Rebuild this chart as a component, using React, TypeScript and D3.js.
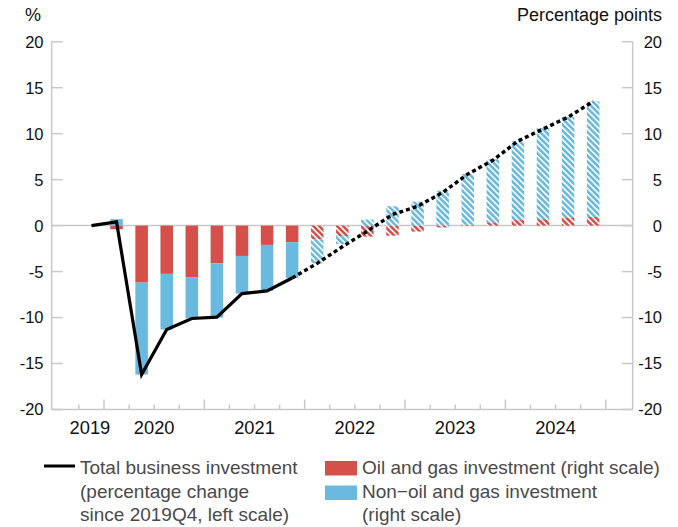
import React from "react";
import * as d3 from "d3";

// ---- data ----
const axisQuarters = [
  "2019Q3", "2019Q4",
  "2020Q1", "2020Q2", "2020Q3", "2020Q4",
  "2021Q1", "2021Q2", "2021Q3", "2021Q4",
  "2022Q1", "2022Q2", "2022Q3", "2022Q4",
  "2023Q1", "2023Q2", "2023Q3", "2023Q4",
  "2024Q1", "2024Q2", "2024Q3", "2024Q4",
  "2025Q1",
];
const barQuarters = [
  "2020Q1", "2020Q2", "2020Q3", "2020Q4",
  "2021Q1", "2021Q2", "2021Q3", "2021Q4",
  "2022Q1", "2022Q2", "2022Q3", "2022Q4",
  "2023Q1", "2023Q2", "2023Q3", "2023Q4",
  "2024Q1", "2024Q2", "2024Q3", "2024Q4",
];
const oilGas = [
  -0.4, -6.2, -5.25, -5.6,
  -4.1, -3.3, -2.1, -1.8,
  -1.5, -1.15, -1.2, -1.1,
  -0.65, -0.2, 0.1, 0.36,
  0.6, 0.7, 0.9, 0.95,
];
const nonOilGas = [
  0.7, -10.0, -6.05, -4.5,
  -5.9, -4.1, -5.0, -3.9,
  -2.6, -0.85, 0.65, 2.1,
  2.6, 3.8, 5.5, 6.85,
  8.6, 9.9, 10.9, 12.55,
];
const lineQuarters = ["2019Q4", ...barQuarters];
const totalInvestment = [
  0, 0.4, -16.2, -11.3, -10.1,
  -9.95, -7.4, -7.1, -5.7,
  -4.1, -2.3, -0.6, 1.2,
  2.1, 3.6, 5.6, 7.1,
  9.2, 10.5, 11.8, 13.5,
];
const projectionStart = "2022Q1"; // bars hatched from here
const lineProjectionStart = "2021Q4"; // line dashed from here
const yTicks = [20, 15, 10, 5, 0, -5, -10, -15, -20];
const years = ["2019", "2020", "2021", "2022", "2023", "2024"];

const RED = "#d6504b";
const BLUE = "#6ab9de";
const AXIS = "#c9c9c9";

export default function App() {
  const W = 678, H = 527;
  const axL = 51.7, axR = 632.7, yTop = 41.7, yBot = 409.5;

  const x = d3.scaleBand<string>()
    .domain(axisQuarters)
    .range([53.83, 630.8])
    .paddingInner(0.5)
    .paddingOuter(0.25);
  const step = x.step();
  const rangeStart = 53.83;
  const y = d3.scaleLinear().domain([-20, 20]).range([yBot, yTop]);
  const cx = (q: string) => (x(q) as number) + x.bandwidth() / 2;

  const rows = barQuarters.map((q, i) => ({ q, oil: oilGas[i], nonOil: nonOilGas[i] }));
  const stack = d3.stack<any>().keys(["oil", "nonOil"]).offset(d3.stackOffsetDiverging);
  const series = stack(rows);
  const projIdx = barQuarters.indexOf(projectionStart);

  const linePts = lineQuarters.map((q, i) => ({ q, v: totalInvestment[i] }));
  const split = lineQuarters.indexOf(lineProjectionStart);
  const lineGen = d3.line<{ q: string; v: number }>().x(d => cx(d.q)).y(d => y(d.v));
  const solidPath = lineGen(linePts.slice(0, split + 1)) || "";
  const dashPath = lineGen(linePts.slice(split)) || "";

  // quarter boundary ticks
  const boundaries = axisQuarters.slice(1).map((q, i) => ({
    x: rangeStart + (i + 1) * step,
    major: q.endsWith("Q1"),
  }));

  const yearX = (yr: string) => {
    if (yr === "2019") return cx("2019Q4") - 1.5;
    return rangeStart + (axisQuarters.indexOf(yr + "Q2") + 1) * step;
  };

  const font = "'Liberation Sans', Arial, Helvetica, sans-serif";

  return (
    <svg width={W} height={H} style={{ position: "absolute", left: 0, top: 0, background: "#fff" }} fontFamily={font}>
      <defs>
        <pattern id="hatch-red" patternUnits="userSpaceOnUse" width="10" height="4.2" patternTransform="rotate(45)">
          <rect x="0" y="0" width="10" height="4.2" fill="#fff" />
          <rect x="0" y="0" width="10" height="2.6" fill={RED} />
        </pattern>
        <pattern id="hatch-blue" patternUnits="userSpaceOnUse" width="10" height="4.2" patternTransform="rotate(45)">
          <rect x="0" y="0" width="10" height="4.2" fill="#fff" />
          <rect x="0" y="0" width="10" height="2.6" fill={BLUE} />
        </pattern>
      </defs>

      {/* headers */}
      <text x={25} y={21} fontSize={18} fill="#111">%</text>
      <text x={662} y={21} fontSize={18} fill="#111" textAnchor="end">Percentage points</text>

      {/* frame */}
      <line x1={axL} x2={axL} y1={yTop} y2={yBot} stroke={AXIS} strokeWidth={1.5} />
      <line x1={axR} x2={axR} y1={yTop} y2={yBot} stroke={AXIS} strokeWidth={1.5} />
      <line x1={axL} x2={axR} y1={yBot} y2={yBot} stroke={AXIS} strokeWidth={1.5} />
      <line x1={axL} x2={axR} y1={y(0)} y2={y(0)} stroke={AXIS} strokeWidth={1.5} />

      {/* y ticks and labels */}
      {yTicks.map(t => (
        <g key={t}>
          <line x1={axL} x2={axL + 11} y1={y(t)} y2={y(t)} stroke={AXIS} strokeWidth={1.5} />
          <line x1={axR - 11} x2={axR} y1={y(t)} y2={y(t)} stroke={AXIS} strokeWidth={1.5} />
          <text x={43.5} y={y(t)} dy="0.36em" fontSize={16.5} textAnchor="end" fill="#111">{t}</text>
          <text x={662} y={y(t)} dy="0.36em" fontSize={16.5} textAnchor="end" fill="#111">{t}</text>
        </g>
      ))}

      {/* x ticks */}
      {boundaries.map((b, i) => (
        <line key={i} x1={b.x} x2={b.x} y1={yBot} y2={yBot - (b.major ? 10 : 5)} stroke={AXIS} strokeWidth={1.5} />
      ))}
      {years.map(yr => (
        <text key={yr} x={yearX(yr)} y={434} fontSize={18.3} textAnchor="middle" fill="#111">{yr}</text>
      ))}

      {/* bars */}
      {series.map(s => (
        <g key={s.key}>
          {s.map((d, i) => {
            const proj = i >= projIdx;
            const base = s.key === "oil" ? RED : BLUE;
            const fill = proj ? (s.key === "oil" ? "url(#hatch-red)" : "url(#hatch-blue)") : base;
            const y0 = y(Math.max(d[0], d[1]));
            const y1 = y(Math.min(d[0], d[1]));
            return (
              <rect key={i} x={x(rows[i].q) as number} width={x.bandwidth()} y={y0} height={Math.max(0, y1 - y0)} fill={fill} />
            );
          })}
        </g>
      ))}

      {/* total line */}
      <path d={solidPath} fill="none" stroke="#000" strokeWidth={3.2} strokeLinejoin="miter" />
      <path d={dashPath} fill="none" stroke="#000" strokeWidth={3.4} strokeDasharray="4 3" />

      {/* legend */}
      <line x1={44} x2={75} y1={466} y2={466} stroke="#000" strokeWidth={3} />
      <text fontSize={19} fill="#4a4a4a">
        <tspan x={80} y={474}>Total business investment</tspan>
        <tspan x={80} y={497.5}>(percentage change</tspan>
        <tspan x={80} y={521}>since 2019Q4, left scale)</tspan>
      </text>
      <rect x={325} y={461} width={32} height={14.5} fill={RED} />
      <rect x={325} y={485.5} width={32} height={14.5} fill={BLUE} />
      <text fontSize={19} fill="#4a4a4a">
        <tspan x={362} y={474}>Oil and gas investment (right scale)</tspan>
        <tspan x={362} y={497.5}>Non{"\u2212"}oil and gas investment</tspan>
        <tspan x={362} y={521}>(right scale)</tspan>
      </text>
    </svg>
  );
}
